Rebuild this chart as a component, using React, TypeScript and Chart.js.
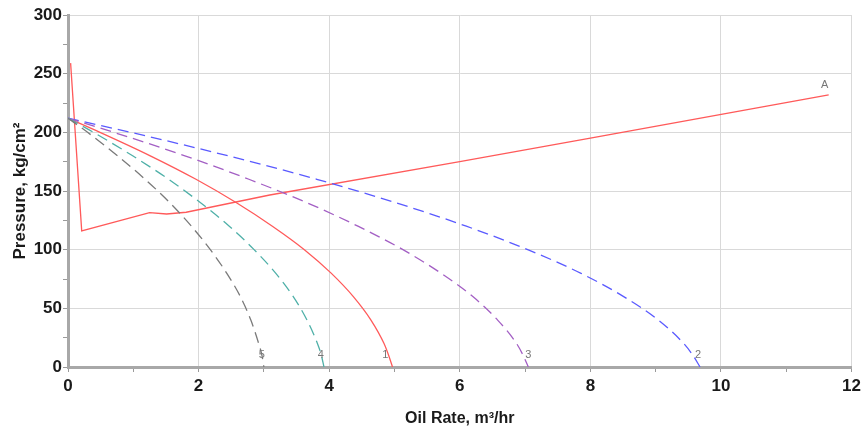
import React, { useEffect, useRef } from "react";
import { Chart, registerables } from "chart.js";

Chart.register(...registerables);

// Pressure levels (kg/cm²) shared by IPR curves
const pressures = [212, 200, 180, 160, 140, 120, 100, 80, 60, 40, 20, 10, 0];
// Oil rates (m³/hr) for each IPR curve at those pressures
const rate1 = [0, 0.49, 1.26, 1.96, 2.58, 3.13, 3.62, 4.03, 4.37, 4.64, 4.84, 4.91, 4.97];
const rate2 = [0, 0.96, 2.45, 3.81, 5.02, 6.1, 7.04, 7.85, 8.51, 9.04, 9.43, 9.57, 9.68];
const rate3 = [0, 0.7, 1.79, 2.77, 3.66, 4.44, 5.13, 5.71, 6.2, 6.58, 6.87, 6.97, 7.05];
const rate4 = [0, 0.39, 0.99, 1.54, 2.03, 2.47, 2.85, 3.18, 3.45, 3.66, 3.82, 3.88, 3.92];
const rate5 = [0, 0.3, 0.76, 1.18, 1.56, 1.89, 2.18, 2.43, 2.64, 2.8, 2.92, 2.97, 3.0];

// Curve A (tubing performance)
const rateA = [0.04, 0.21, 1.25, 1.51, 1.81, 3.09, 6.0, 8.0, 11.65];
const pressA = [259, 116, 131.5, 130.4, 131.9, 146.6, 175, 195, 232];

// Curve labels
const labelText = ["5", "4", "1", "3", "2", "A"];
const labelX = [2.97, 3.87, 4.86, 7.05, 9.65, 11.59];
const labelY = [10, 10, 10, 10, 10, 240];

const toPts = (xs: number[], ys: number[]) => xs.map((x, i) => ({ x, y: ys[i] }));

const FONT = "'Liberation Sans', Arial, sans-serif";

const labelPlugin = {
  id: "curveLabels",
  afterDatasetsDraw(chart: any) {
    const { ctx, scales } = chart;
    ctx.save();
    ctx.font = "11px 'Liberation Sans', Arial, sans-serif";
    ctx.fillStyle = "#777777";
    ctx.textAlign = "center";
    ctx.textBaseline = "middle";
    labelText.forEach((t, i) => {
      ctx.fillText(t, scales.x.getPixelForValue(labelX[i]), scales.y.getPixelForValue(labelY[i]));
    });
    ctx.restore();
  },
};

export default function App() {
  const ref = useRef<HTMLCanvasElement>(null);
  useEffect(() => {
    if (!ref.current) return;
    const ipr = (data: number[], color: string, dashed: boolean) => ({
      data: toPts(data, pressures),
      borderColor: color,
      borderWidth: 1.3,
      borderDash: dashed ? [11, 6] : [],
      pointRadius: 0,
      cubicInterpolationMode: "monotone" as const,
      fill: false,
    });
    const chart = new Chart(ref.current, {
      type: "line",
      data: {
        datasets: [
          ipr(rate5, "#7a7a7a", true),
          ipr(rate4, "#4fb0a8", true),
          ipr(rate3, "#a35fc4", true),
          ipr(rate2, "#5a5aff", true),
          ipr(rate1, "#ff5a5a", false),
          {
            data: toPts(rateA, pressA),
            borderColor: "#ff5a5a",
            borderWidth: 1.3,
            pointRadius: 0,
            tension: 0,
            fill: false,
          },
        ],
      },
      options: {
        animation: false,
        responsive: false,
        maintainAspectRatio: false,
        layout: { padding: { left: 10, right: 10, top: 15, bottom: 2 } },
        plugins: { legend: { display: false }, tooltip: { enabled: false } },
        scales: {
          x: {
            type: "linear",
            min: 0,
            max: 12,
            ticks: {
              stepSize: 1,
              autoSkip: false,
              maxRotation: 0,
              padding: 4,
              color: "#1a1a1a",
              font: { family: FONT, size: 17, weight: "bold" },
              callback: (v: any) => (v % 2 === 0 ? String(v) : ""),
            },
            grid: {
              color: (c: any) => (c.tick && c.tick.value % 2 === 0 ? "#d9d9d9" : "rgba(0,0,0,0)"),
              tickColor: "#9a9a9a",
              tickLength: 5,
              lineWidth: 1,
            },
            border: { color: "#a8a8a8", width: 3 },
            title: {
              display: true,
              text: "Oil Rate, m³/hr",
              color: "#1a1a1a",
              font: { family: FONT, size: 16, weight: "bold" },
              padding: { top: 0, bottom: 0 },
            },
            afterFit: (a: any) => {
              a.height = 61;
            },
          },
          y: {
            min: 0,
            max: 300,
            ticks: {
              stepSize: 25,
              autoSkip: false,
              color: "#1a1a1a",
              font: { family: FONT, size: 17, weight: "bold" },
              callback: (v: any) => (v % 50 === 0 ? String(v) : ""),
              padding: 1,
            },
            grid: {
              color: (c: any) => (c.tick && c.tick.value % 50 === 0 ? "#d9d9d9" : "rgba(0,0,0,0)"),
              tickColor: "#9a9a9a",
              tickLength: 5,
              lineWidth: 1,
            },
            border: { color: "#a8a8a8", width: 3 },
            title: {
              display: true,
              text: "Pressure, kg/cm²",
              color: "#1a1a1a",
              font: { family: FONT, size: 17, weight: "bold" },
              padding: { top: 0, bottom: 4 },
            },
            afterFit: (a: any) => {
              a.width = 58;
            },
          },
        },
      },
      plugins: [labelPlugin],
    });
    return () => chart.destroy();
  }, []);
  return (
    <div style={{ position: "fixed", left: 0, top: 0, width: 865, height: 430, background: "#fff" }}>
      <canvas ref={ref} width={865} height={430} style={{ width: 865, height: 430 }} />
    </div>
  );
}
